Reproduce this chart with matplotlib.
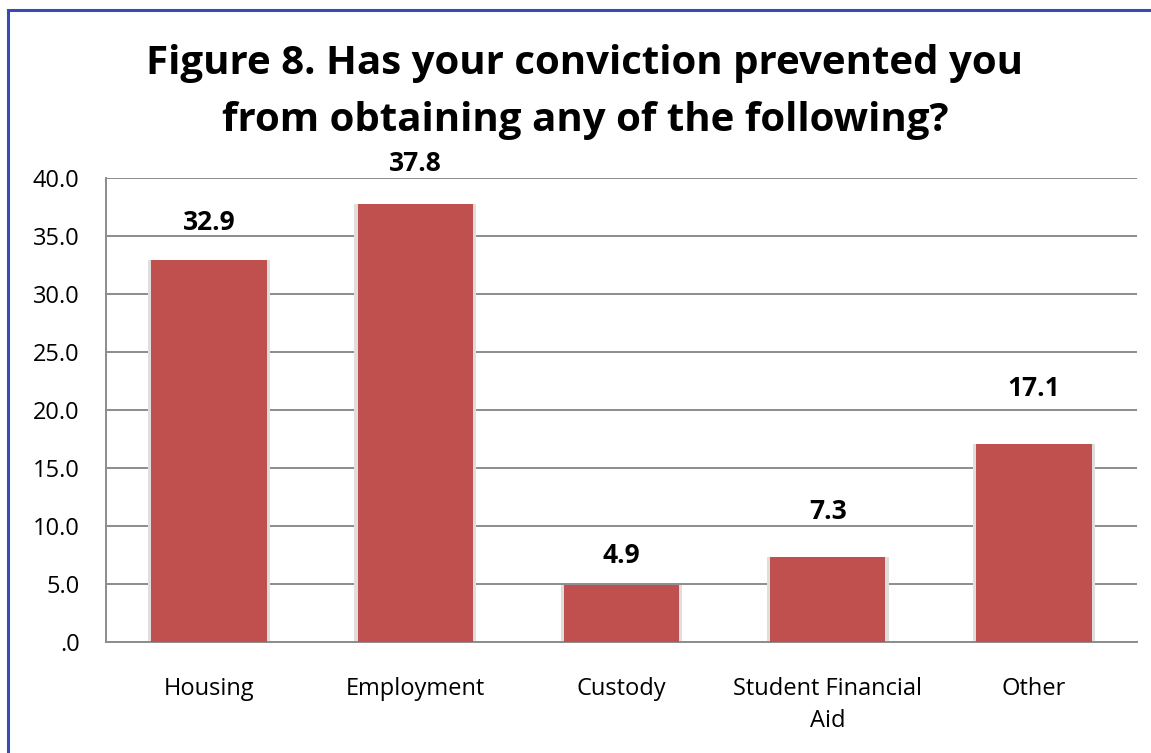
import matplotlib
matplotlib.use("Agg")
import matplotlib.pyplot as plt
from matplotlib.patches import Rectangle

categories = ["Housing", "Employment", "Custody", "Student Financial\nAid", "Other"]
values = [32.9, 37.8, 4.9, 7.3, 17.1]
yticks = [0, 5, 10, 15, 20, 25, 30, 35, 40]
ytick_labels = [".0", "5.0", "10.0", "15.0", "20.0", "25.0", "30.0", "35.0", "40.0"]
title = "Figure 8. Has your conviction prevented you\nfrom obtaining any of the following?"
label_offsets_pt = [27, 29, 21, 33, 40]

plt.rcParams['font.family'] = ['Open Sans', 'DejaVu Sans']

fig = plt.figure(figsize=(11.51, 7.53), dpi=100)
ax = fig.add_axes([106/1151, 111/753, (1137-106)/1151, (642-178)/753])

x = list(range(len(categories)))
width = 0.56
# soft shadow
ax.bar(x, values, width=width + 0.03, color="#dedede", zorder=2)
ax.bar(x, values, width=width, color="#C0504D", zorder=3)

for xi, v, off in zip(x, values, label_offsets_pt):
    ax.annotate(f"{v:.1f}", (xi, v), xytext=(0, off), textcoords="offset points",
                ha="center", va="center", fontsize=19, fontweight="bold",
                annotation_clip=False, zorder=5)

ax.set_ylim(0, 40)
ax.set_xlim(-0.5, len(categories) - 0.5)
ax.set_yticks(yticks)
ax.set_yticklabels(ytick_labels, fontsize=17)
ax.set_xticks(x)
ax.set_xticklabels(categories, fontsize=17, linespacing=1.45)
ax.yaxis.grid(True, color="#8c8c8c", linewidth=1.4, zorder=0)
ax.set_axisbelow(True)
for s in ["top", "right"]:
    ax.spines[s].set_visible(False)
for s in ["left", "bottom"]:
    ax.spines[s].set_color("#8c8c8c")
    ax.spines[s].set_linewidth(1.4)
ax.tick_params(axis="both", length=0)
ax.tick_params(axis="y", pad=19)
ax.tick_params(axis="x", pad=25)

fig.text(585/1151, 1 - 92/753, title, ha="center", va="center", fontsize=29,
         fontweight="bold", linespacing=1.62)

fig.patches.append(Rectangle((8/1151, -0.1), 1.2, 1 - 10/753 + 0.1, transform=fig.transFigure,
                             fill=False, edgecolor="#3A4AB0", linewidth=2.2, figure=fig))

fig.savefig("out.png", dpi=100)
